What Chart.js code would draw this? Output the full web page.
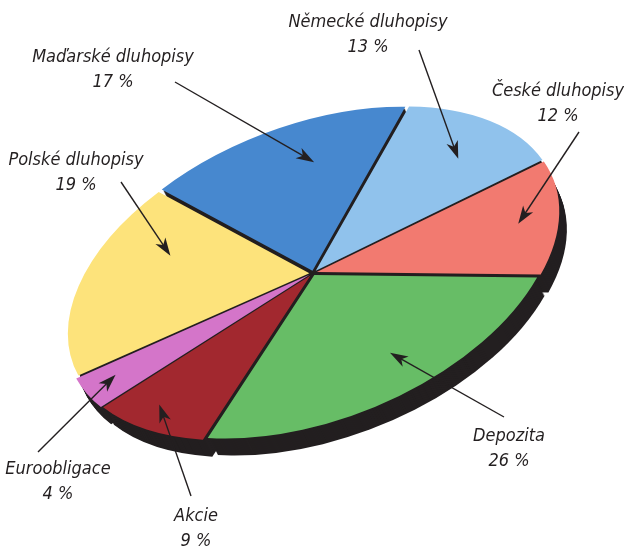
<!DOCTYPE html>
<html>
<head>
<meta charset="utf-8">
<script src="https://cdn.jsdelivr.net/npm/chart.js@4.4.1/dist/chart.umd.min.js"></script>
<style>
  html, body { margin: 0; padding: 0; background: #fff; }
  #wrap { width: 624px; height: 547px; }
</style>
</head>
<body>
<div id="wrap"><canvas id="pieChart" width="624" height="547"></canvas></div>
<script>
// data
const categories = [
  "Maďarské dluhopisy",
  "Německé dluhopisy",
  "České dluhopisy",
  "Depozita",
  "Akcie",
  "Euroobligace",
  "Polské dluhopisy",
];
const shares = [17, 13, 12, 26, 9, 4, 19];
const sliceColors = ["#4788cf", "#90c2ec", "#f27a70", "#67bd66", "#a2282f", "#d475c9", "#fde37b"];

// layout of the tilted disc and the callouts
const pieCenter = [313, 273];
const tilt = [[-150.5, 188.6], [-81.1, -142.1]]; // unit circle -> screen
const depth = [9, 18];
const labelPos = [[113, 57], [368, 22], [558, 91], [509, 436], [196, 516], [58, 469], [76, 160]];
const arrowTail = [[175, 82], [419, 50], [579, 132], [504, 417], [191, 496], [38, 452], [121, 182]];
const tipAlong = [0.64, 0.58, 0.5, 0.44, 0.62, 0.6, 0.7];
const tipRadius = [0.71, 0.77, 0.83, 0.71, 0.86, 0.86, 0.67];

const FONT = "italic 18px 'Liberation Sans Narrow', 'DejaVu Sans Condensed', 'Liberation Sans', sans-serif";

function tiltMatrix(chart, dx, dy) {
  const arc = chart.getDatasetMeta(0).data[0];
  const R = arc.outerRadius;
  return new DOMMatrix()
    .translate(pieCenter[0] + dx, pieCenter[1] + dy)
    .multiply(new DOMMatrix([tilt[0][0] / R, tilt[1][0] / R, tilt[0][1] / R, tilt[1][1] / R, 0, 0]))
    .translate(-arc.x, -arc.y);
}

// same shift that ArcElement.draw applies for the offset option
function arcShift(arc) {
  const off = (arc.options.offset || 0) / 4;
  const fix = 1 - Math.sin(Math.min(Math.PI, arc.circumference || 0));
  const mid = (arc.startAngle + arc.endAngle) / 2;
  const d = off + off * fix;
  return [Math.cos(mid) * d, Math.sin(mid) * d];
}

const tiltPlugin = {
  id: "tilt",
  beforeDatasetsDraw(chart) {
    const ctx = chart.ctx;
    const base = ctx.getTransform();
    const arcs = chart.getDatasetMeta(0).data;
    // dark body of the disc
    const steps = 18;
    ctx.save();
    ctx.fillStyle = "#231f20";
    for (let k = steps; k >= 1; k--) {
      ctx.setTransform(base.multiply(tiltMatrix(chart, (depth[0] * k) / steps, (depth[1] * k) / steps)));
      arcs.forEach((arc) => {
        const [sx, sy] = arcShift(arc);
        const x = arc.x + sx;
        const y = arc.y + sy;
        ctx.beginPath();
        ctx.moveTo(x, y);
        ctx.arc(x, y, arc.outerRadius - 1.5, arc.startAngle, arc.endAngle);
        ctx.closePath();
        ctx.fill();
      });
    }
    ctx.restore();
    ctx.save();
    ctx.setTransform(base.multiply(tiltMatrix(chart, 0, 0)));
  },
  afterDatasetsDraw(chart) {
    chart.ctx.restore();
  },
  afterDraw(chart) {
    const ctx = chart.ctx;
    const m = tiltMatrix(chart, 0, 0);
    const arcs = chart.getDatasetMeta(0).data;
    ctx.save();
    ctx.fillStyle = "#231f20";
    ctx.strokeStyle = "#231f20";
    ctx.font = FONT;
    ctx.textAlign = "center";
    ctx.textBaseline = "middle";
    arcs.forEach((arc, i) => {
      const a = arc.startAngle + tipAlong[i] * (arc.endAngle - arc.startAngle);
      const [sx, sy] = arcShift(arc);
      const r = tipRadius[i] * arc.outerRadius;
      const p = m.transformPoint(new DOMPoint(
        arc.x + sx + Math.cos(a) * r,
        arc.y + sy + Math.sin(a) * r
      ));
      const [tx, ty] = arrowTail[i];
      const ang = Math.atan2(p.y - ty, p.x - tx);
      const len = 18, half = 6;
      ctx.lineWidth = 1.4;
      ctx.beginPath();
      ctx.moveTo(tx, ty);
      ctx.lineTo(p.x - Math.cos(ang) * 10, p.y - Math.sin(ang) * 10);
      ctx.stroke();
      ctx.beginPath();
      ctx.moveTo(p.x, p.y);
      ctx.lineTo(p.x - Math.cos(ang) * len + Math.sin(ang) * half, p.y - Math.sin(ang) * len - Math.cos(ang) * half);
      ctx.lineTo(p.x - Math.cos(ang) * (len - 5), p.y - Math.sin(ang) * (len - 5));
      ctx.lineTo(p.x - Math.cos(ang) * len - Math.sin(ang) * half, p.y - Math.sin(ang) * len + Math.cos(ang) * half);
      ctx.closePath();
      ctx.fill();

      const [lx, ly] = labelPos[i];
      ctx.fillText(categories[i], lx, ly);
      ctx.fillText(shares[i] + " %", lx, ly + 25);
    });
    ctx.restore();
  },
};

new Chart(document.getElementById("pieChart"), {
  type: "pie",
  data: {
    labels: categories,
    datasets: [
      {
        data: shares,
        backgroundColor: sliceColors,
        borderWidth: 0,
        offset: 16,
      },
    ],
  },
  options: {
    responsive: false,
    animation: false,
    events: [],
    rotation: 90,
    layout: { padding: 10 },
    plugins: {
      legend: { display: false },
      tooltip: { enabled: false },
    },
  },
  plugins: [tiltPlugin],
});
</script>
</body>
</html>
